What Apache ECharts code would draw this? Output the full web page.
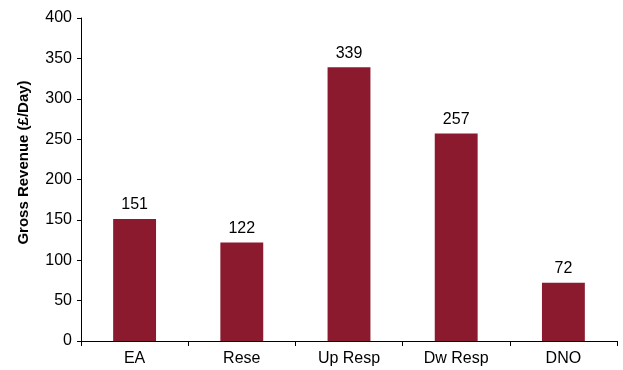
<!DOCTYPE html>
<html>
<head>
<meta charset="utf-8">
<script src="https://cdn.jsdelivr.net/npm/echarts@6/dist/echarts.min.js"></script>
<style>
html, body { margin: 0; padding: 0; background: #fff; }
#chart { width: 623px; height: 370px; }
</style>
</head>
<body>
<div id="chart"></div>
<script>
// Gross revenue per service, £ per day
const categories = ['EA', 'Rese', 'Up Resp', 'Dw Resp', 'DNO'];
const revenue = [151, 122, 339, 257, 72];
const yTicks = { min: 0, max: 400, interval: 50 };

const chart = echarts.init(document.getElementById('chart'), null, { renderer: 'canvas' });
const font = 'Liberation Sans, Arial, sans-serif';

chart.setOption({
  animation: false,
  grid: { left: 81, right: 6, top: 18, bottom: 29 },
  xAxis: {
    type: 'category',
    data: categories,
    axisLine: { lineStyle: { color: '#000', width: 1 } },
    axisTick: { show: true, alignWithLabel: false, length: 5, inside: false, lineStyle: { color: '#000' } },
    axisLabel: { color: '#000', fontFamily: font, fontSize: 16, margin: 10 }
  },
  yAxis: {
    type: 'value',
    min: yTicks.min,
    max: yTicks.max,
    interval: yTicks.interval,
    name: 'Gross Revenue (£/Day)',
    nameLocation: 'middle',
    nameGap: 50,
    nameTextStyle: {
      color: '#000', fontFamily: font, fontSize: 15, fontWeight: 'bold',
      padding: [0, 0, 0, 34]
    },
    axisLine: { show: true, lineStyle: { color: '#000', width: 1 } },
    axisTick: { show: true, length: 4, lineStyle: { color: '#000' } },
    axisLabel: { color: '#000', fontFamily: font, fontSize: 16, margin: 9 },
    splitLine: { show: false }
  },
  series: [{
    type: 'bar',
    data: revenue,
    barWidth: '40%',
    itemStyle: { color: '#8C1A2F' },
    label: {
      show: true,
      position: 'top',
      distance: 6,
      color: '#000',
      fontFamily: font,
      fontSize: 16
    }
  }]
});
</script>
</body>
</html>
